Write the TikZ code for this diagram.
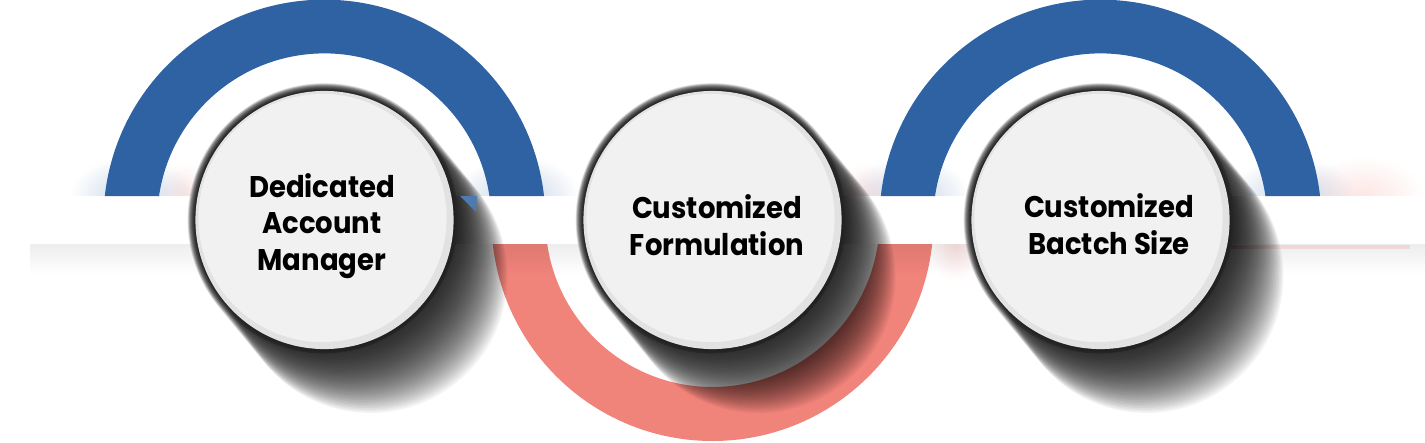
\documentclass[tikz,border=0pt]{standalone}
\usepackage{fontspec}
\newfontfamily\labelfont{Poppins}[FakeStretch=0.92]
\usetikzlibrary{fadings}
\definecolor{arcblue}{HTML}{2E62A3}
\definecolor{arcred}{HTML}{F0837A}
\definecolor{discfill}{HTML}{F1F1F1}
\definecolor{discrim}{HTML}{E2E2E2}
\definecolor{halo}{HTML}{F6F6F6}
\tikzfading[name=fadedown, top color=transparent!93, bottom color=transparent!100]
\tikzfading[name=softblob, inner color=transparent!55, outer color=transparent!100]
\tikzset{
  rimdisc/.style={circle, fill=discrim, inner sep=0pt, minimum size=2.58cm},
  topdisc/.style={circle, fill=discfill, inner sep=0pt, minimum size=2.48cm},
  halodisc/.style={circle, fill=halo, inner sep=0pt, minimum size=2.68cm},
  labeltext/.style={align=center, text=black, font=\labelfont\bfseries\fontsize{8.5}{10.4}\selectfont},
  bluehalo/.style={fill=arcblue, path fading=softblob, opacity=0.6},
  redhalo/.style={fill=arcred, path fading=softblob, opacity=0.45},
}
\newcommand{\castshadow}[2]{%
  \begin{scope}[shift={(#1,#2)}]
  \foreach \k in {1,...,40}{
    \pgfmathsetmacro{\dx}{46*\k/40}
    \pgfmathsetmacro{\dy}{-56*\k/40}
    \pgfmathsetmacro{\rr}{129+8*\k/40}
    \fill[black, opacity=0.042] (0,0) ++(39.4:\rr) -- ++(\dx,\dy)
      arc[start angle=39.4, end angle=-140.6, radius=\rr]
      -- ++(-\dx,-\dy) arc[start angle=219.4, end angle=39.4, radius=\rr] -- cycle;
  }
  \end{scope}}
\begin{document}
\begin{tikzpicture}[x=0.01cm,y=0.01cm]
\useasboundingbox (0,0) rectangle (1425,442);
% faint reflections near the band
\fill[bluehalo] (70,206) rectangle (195,286);
\fill[bluehalo] (455,206) rectangle (580,286);
\fill[bluehalo] (848,206) rectangle (970,286);
\fill[bluehalo] (1230,206) rectangle (1355,286);
\fill[redhalo] (1300,206) rectangle (1425,286);
\fill[redhalo] (160,210) rectangle (210,280);
\fill[redhalo] (835,210) rectangle (890,280);
\fill[redhalo] (930,160) rectangle (980,230);
% lower red arc
\fill[arcred] (712.5,222) ++(180:221) arc[start angle=180, end angle=360, radius=221]
  -- ++(-54,0) arc[start angle=360, end angle=180, radius=167] -- cycle;
% band and its soft shadow
\fill[black, path fading=fadedown] (30,168) rectangle (1425,198);
\fill[arcred, opacity=0.2] (1200,193) rectangle (1410,197);
\fill[white] (0,198) rectangle (1425,246);
% halos round the discs
\node[halodisc] (h1) at (323.5,223) {};
\node[halodisc] (h2) at (711.5,223) {};
\node[halodisc] (h3) at (1099.5,223) {};
% cast shadows
\castshadow{324.5}{222}
\castshadow{712.5}{222}
\castshadow{1100.5}{222}
% upper blue arcs, above the band
\fill[arcblue] (324.5,246) ++(-219.7,0) arc[start angle=173.6, end angle=6.4, radius=221]
  -- ++(-54.6,0) arc[start angle=8.4, end angle=171.6, radius=167] -- cycle;
\fill[arcblue] (1100.5,246) ++(-219.7,0) arc[start angle=173.6, end angle=6.4, radius=221]
  -- ++(-54.6,0) arc[start angle=8.4, end angle=171.6, radius=167] -- cycle;
\fill[arcblue!85!white] (460,246) -- (477,246) -- (476,230) -- cycle;
% discs
\node[rimdisc] (r1) at (324.5,222) {};
\node[rimdisc] (r2) at (712.5,222) {};
\node[rimdisc] (r3) at (1100.5,222) {};
\node[topdisc] (c1) at (322.5,224) {};
\node[topdisc] (c2) at (710.5,224) {};
\node[topdisc] (c3) at (1098.5,224) {};
\node[labeltext] (t1) at (322,216) {Dedicated\\Account\\Manager};
\node[labeltext] (t2) at (717,217) {Customized\\Formulation};
\node[labeltext] (t3) at (1109,218) {Customized\\Bactch Size};
\end{tikzpicture}
\end{document}
